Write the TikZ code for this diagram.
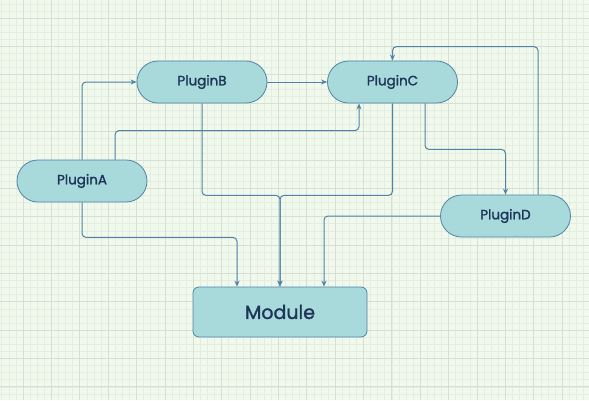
\documentclass[tikz,border=0pt]{standalone}
\usepackage{fontspec}
\setmainfont{Poppins}[FakeBold=1.5]
\usetikzlibrary{arrows.meta,calc}
\definecolor{paper}{HTML}{F1F8EC}
\definecolor{gridminor}{HTML}{E4EDE1}
\definecolor{gridmajor}{HTML}{D6DFD5}
\definecolor{nodefill}{HTML}{A8DADC}
\definecolor{edge}{HTML}{4F84A6}
\definecolor{ink}{HTML}{1D3557}
\begin{document}
\begin{tikzpicture}[x=1pt, y=-1pt,
    plugin/.style={draw=edge, fill=nodefill, line width=0.8pt, rounded corners=21pt,
        minimum width=130pt, minimum height=42pt, text=ink, font=\fontsize{13.5}{16}\selectfont},
    module/.style={draw=edge, fill=nodefill, line width=0.8pt, rounded corners=6pt,
        minimum width=174pt, minimum height=50pt, text=ink, font=\fontsize{19}{22}\selectfont},
    flow/.style={draw=edge, line width=1pt, rounded corners=4pt, -{Stealth[length=6pt,width=5pt]}}]
    % Paper with grid
    \useasboundingbox (0,0) rectangle (589,400);
    \fill[paper] (0,0) rectangle (589,400);
    \foreach \i in {-3,...,80} \draw[gridminor, line width=0.5pt] (23+7.0925*\i,0) -- (23+7.0925*\i,400);
    \foreach \j in {-2,...,54} \draw[gridminor, line width=0.5pt] (0,18+7.0925*\j) -- (589,18+7.0925*\j);
    \foreach \i in {0,...,19} \draw[gridmajor, line width=0.7pt] (23+28.37*\i,0) -- (23+28.37*\i,400);
    \foreach \j in {0,...,13} \draw[gridmajor, line width=0.7pt] (0,18+28.37*\j) -- (589,18+28.37*\j);
    % Plugins
    \node[plugin] (pa) at (82,181) {PluginA};
    \node[plugin] (pb) at (202,82) {PluginB};
    \node[plugin] (pc) at (392.5,82) {PluginC};
    \node[plugin] (pd) at (505.5,216) {PluginD};
    % Module
    \node[module] (mod) at (280,312) {Module};
    % From PluginA
    \draw[flow] (pa.north) |- (pb.west);
    \draw[flow] ($(pa.north)+(33,0)$) -- ++(0,-29) -| ($(pc.south)+(-33.5,0)$);
    \draw[flow] (pa.south) -- ++(0,35) -| ($(mod.north)+(-43,0)$);
    % From PluginB
    \draw[flow] (pb) -- (pc);
    \draw[flow] (pb.south) -- ++(0,92) -| (mod.north);
    % From PluginC
    \draw[flow] (pc.south) -- ++(0,92) -| (mod.north);
    \draw[flow] ($(pc.south)+(32.5,0)$) -- ++(0,46) -| (pd.north);
    % From PluginD
    \draw[flow] ($(pd.north)+(32.5,0)$) -- ++(0,-148) -| (pc.north);
    \draw[flow] (pd.west) -| ($(mod.north)+(44,0)$);
\end{tikzpicture}
\end{document}
